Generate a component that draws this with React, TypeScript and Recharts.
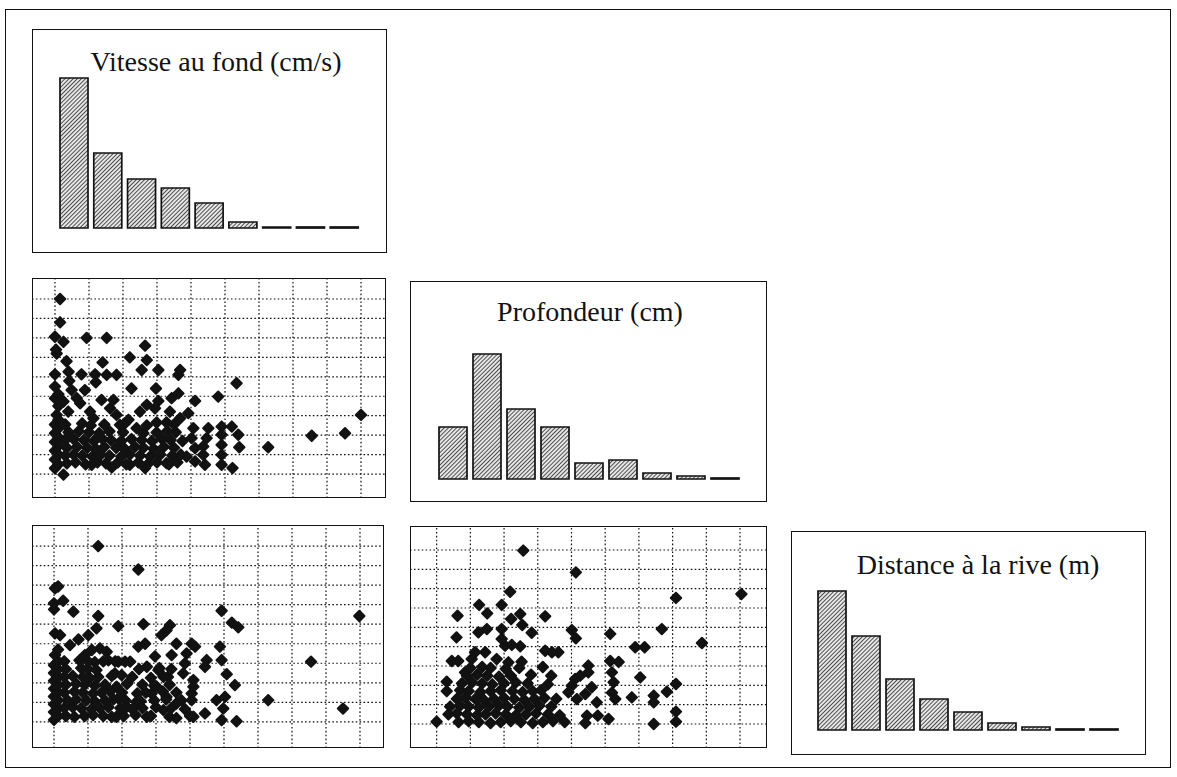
import React from "react";
import { Bar, BarChart, ReferenceLine, Scatter, ScatterChart, XAxis, YAxis } from "recharts";

// classes (9 per variable) and grid lines between classes
const CLASSES = ["1", "2", "3", "4", "5", "6", "7", "8", "9"];
const GRID_TICKS = [0, 1, 2, 3, 4, 5, 6, 7, 8, 9];

// histogram counts per class
const vitesseCounts = [150, 75, 49, 40, 25, 6, 1, 1, 1];
const profondeurCounts = [52, 125, 70, 52, 16, 19, 6, 3, 1];
const distanceCounts = [139, 94, 51, 31, 18, 7, 3, 1, 1];

// scatter points, in class units: [x, y]
const vitesseProfondeur: [number, number][] = [
  [0.15, 9.0], [0.15, 7.8], [0.0, 7.06], [0.25, 6.8], [0.03, 6.4], [0.05, 6.2], [0.34, 5.8], [0.93, 7.0], [1.52, 7.0], [2.65, 6.6],
  [2.2, 6.0], [2.7, 5.86], [1.4, 5.74], [0.4, 5.26], [0.0, 5.13], [0.78, 5.13], [1.18, 5.13], [1.52, 5.1], [1.81, 5.1], [2.55, 5.35],
  [3.04, 5.35], [3.68, 5.35], [3.63, 5.1], [5.34, 4.67], [1.2, 4.72], [0.42, 4.79], [0.0, 4.5], [0.49, 4.32], [0.88, 4.32], [2.25, 4.4],
  [2.97, 4.4], [3.63, 4.15], [3.43, 3.9], [3.04, 3.76], [2.7, 3.56], [1.37, 3.81], [1.72, 3.81], [4.12, 3.76], [4.8, 3.98], [0.0, 3.9],
  [0.25, 3.73], [0.64, 3.9], [0.74, 3.64], [1.62, 3.38], [2.5, 3.21], [2.94, 3.38], [3.38, 3.21], [3.68, 2.87], [3.92, 3.13], [1.03, 3.21],
  [1.13, 2.87], [0.39, 3.21], [0.05, 3.04], [1.81, 3.04], [2.16, 2.79], [1.91, 2.53], [2.4, 2.36], [2.99, 2.65], [2.99, 2.14], [3.28, 2.65],
  [9.0, 3.04], [7.55, 1.97], [8.53, 2.1], [6.27, 1.38], [5.2, 2.44], [5.39, 2.02], [5.42, 1.38], [5.22, 0.31],
  [4.9, 2.44], [4.9, 2.02], [4.9, 1.5], [4.9, 0.99], [4.9, 0.48],
  [4.51, 2.36], [4.46, 1.85], [4.36, 1.42], [4.36, 0.99], [4.41, 0.48],
  [4.07, 2.36], [4.02, 1.85], [4.12, 1.33], [3.87, 0.9], [4.12, 0.65],
  [0.25, -0.03], [1.67, 0.34], [2.65, 0.31], [3.28, 0.56], [2.2, 0.48], [1.08, 0.48],
  [0.0, 0.3], [0.0, 0.75], [0.0, 1.2], [0.0, 1.65], [0.0, 2.1], [0.0, 2.55],
  [0.1, 0.5], [0.1, 1.0], [0.1, 1.45], [0.1, 1.9], [0.1, 2.35], [0.1, 2.8], [0.1, 3.5], [0.1, 4.1],
  [0.35, 0.55], [0.6, 0.6], [0.9, 0.5], [1.25, 0.6], [1.5, 0.55], [1.85, 0.6], [2.1, 0.5], [2.45, 0.6], [2.75, 0.55], [3.0, 0.6], [3.35, 0.5], [3.6, 0.6],
  [0.3, 0.95], [0.55, 1.0], [0.8, 0.95], [1.1, 0.9], [1.35, 1.0], [1.6, 0.95], [1.95, 0.9], [2.2, 1.0], [2.5, 0.95], [2.8, 0.9], [3.1, 1.0], [3.45, 0.95], [3.7, 1.0],
  [0.35, 1.35], [0.65, 1.4], [0.95, 1.35], [1.2, 1.3], [1.45, 1.4], [1.8, 1.35], [2.05, 1.3], [2.35, 1.4], [2.6, 1.35], [2.9, 1.3], [3.2, 1.4], [3.5, 1.35],
  [0.3, 1.75], [0.55, 1.8], [0.85, 1.75], [1.15, 1.7], [1.4, 1.8], [1.65, 1.75], [1.95, 1.7], [2.25, 1.8], [2.55, 1.75], [2.85, 1.7], [3.15, 1.8], [3.4, 1.75], [3.75, 1.7],
  [0.4, 2.15], [0.7, 2.2], [1.0, 2.15], [1.3, 2.1], [1.6, 2.2], [2.0, 2.15], [2.6, 2.1], [3.3, 2.2], [3.55, 2.15],
  [0.3, 2.55], [0.8, 2.6], [1.05, 2.5], [1.45, 2.55], [2.05, 2.6], [2.7, 2.5], [3.5, 2.55],
];

const vitesseDistance: [number, number][] = [
  [1.3, 9.0], [2.48, 7.8], [0.03, 6.84], [0.12, 6.93], [0.0, 6.07], [0.0, 5.76], [0.27, 6.2], [0.57, 5.64], [1.3, 5.42], [1.89, 4.9],
  [2.63, 5.0], [3.41, 4.95], [3.31, 4.69], [3.16, 4.44], [4.93, 5.69], [5.23, 5.08], [5.42, 4.84], [8.98, 5.42], [7.56, 3.08], [6.3, 1.11],
  [8.5, 0.68], [5.37, 0.03],
  [4.88, 3.85], [4.93, 3.16], [5.08, 2.44], [5.32, 1.88], [5.03, 1.28], [4.98, 0.68], [4.93, 0.09], [4.78, 1.11],
  [4.05, 4.0], [4.15, 3.85], [3.9, 3.5], [4.49, 3.16], [4.44, 2.82], [4.1, 2.14], [4.1, 1.8], [4.05, 1.11], [4.1, 0.26], [4.44, 0.43],
  [3.6, 4.0], [3.46, 3.42], [3.85, 2.99], [3.8, 2.48],
  [2.68, 4.0], [2.48, 3.85], [2.97, 3.35], [2.73, 2.82], [3.07, 2.65], [3.22, 2.31], [3.02, 1.8], [2.87, 1.45], [3.31, 1.28], [3.6, 0.94],
  [3.6, 0.19], [3.22, 0.6], [2.73, 0.26], [2.43, 1.03],
  [2.24, 3.08], [2.09, 3.08], [1.89, 3.08], [1.79, 2.48], [1.99, 2.39], [1.84, 1.8], [1.89, 1.2], [2.14, 0.77], [1.84, 0.26],
  [0.03, 4.53], [0.18, 4.44], [0.72, 4.22], [0.47, 3.93], [1.01, 4.44], [1.25, 4.79], [1.11, 3.68], [0.91, 3.42], [1.35, 3.76], [1.55, 3.59], [0.03, 3.42],
  [0.0, 0.1], [0.0, 0.5], [0.0, 0.9], [0.0, 1.3], [0.0, 1.7], [0.0, 2.1], [0.0, 2.5], [0.0, 2.9],
  [0.12, 0.3], [0.12, 0.7], [0.12, 1.1], [0.12, 1.5], [0.12, 1.9], [0.12, 2.3], [0.12, 2.7], [0.12, 3.1], [0.12, 3.7],
  [0.35, 0.3], [0.6, 0.25], [0.9, 0.3], [1.15, 0.35], [1.45, 0.3], [1.7, 0.25], [2.05, 0.3], [2.4, 0.35], [2.85, 0.3], [3.4, 0.25], [4.0, 0.3],
  [0.3, 0.7], [0.55, 0.75], [0.8, 0.7], [1.1, 0.65], [1.35, 0.7], [1.6, 0.75], [1.95, 0.7], [2.3, 0.65], [2.6, 0.7], [3.0, 0.75], [3.45, 0.7], [3.85, 0.65],
  [0.4, 1.1], [0.65, 1.15], [0.95, 1.1], [1.2, 1.05], [1.5, 1.1], [1.75, 1.15], [2.1, 1.1], [2.55, 1.05], [2.95, 1.1], [3.3, 1.15], [3.75, 1.1],
  [0.3, 1.5], [0.6, 1.55], [0.85, 1.5], [1.15, 1.45], [1.4, 1.5], [1.65, 1.55], [2.0, 1.5], [2.45, 1.45], [2.7, 1.5], [3.2, 1.55], [3.6, 1.5], [4.05, 1.45],
  [0.35, 1.9], [0.65, 1.95], [0.9, 1.9], [1.2, 1.85], [1.5, 1.9], [2.15, 1.95], [2.6, 1.9], [2.95, 1.85], [3.4, 1.9],
  [0.3, 2.3], [0.55, 2.35], [0.85, 2.3], [1.05, 2.25], [1.3, 2.3], [1.7, 2.35], [2.3, 2.3], [2.85, 2.25], [3.35, 2.3],
  [0.35, 2.7], [0.8, 2.75], [1.0, 2.7], [1.25, 2.65], [2.5, 2.7], [3.1, 2.75], [3.45, 2.7],
  [0.3, 3.1], [0.75, 3.15], [1.0, 3.1], [1.2, 3.05], [1.45, 3.1], [1.6, 3.15], [1.8, 3.1],
];

const profondeurDistance: [number, number][] = [
  [2.57, 8.97], [4.13, 7.84], [2.18, 6.84], [7.1, 6.52], [9.04, 6.72], [1.26, 6.16], [1.93, 6.16], [1.5, 5.72], [0.62, 5.6], [2.21, 5.43],
  [2.48, 5.69], [3.22, 5.57], [2.54, 5.12],
  [6.68, 4.91], [7.87, 4.19], [5.89, 3.97], [6.17, 3.97], [5.15, 4.66], [4.01, 4.86], [4.13, 4.43],
  [0.59, 4.48], [1.24, 4.74], [1.49, 4.91], [1.93, 4.91], [2.82, 4.72], [1.93, 4.4], [2.03, 4.05], [2.23, 4.09], [2.48, 4.02],
  [1.14, 3.71], [1.44, 3.71], [1.04, 3.36], [1.78, 3.36], [2.13, 3.19], [2.52, 3.22], [3.42, 3.71], [3.61, 3.71], [3.22, 3.79],
  [0.45, 3.26], [0.64, 3.26], [0.3, 2.19], [0.84, 2.67],
  [0.0, 0.12], [6.44, 0.0], [7.1, 2.07], [6.83, 1.67], [7.1, 0.64], [7.1, 0.12], [6.04, 2.41], [5.79, 1.38], [6.44, 1.47], [6.44, 1.12],
  [5.15, 3.26], [5.4, 3.21], [5.2, 2.67], [5.25, 2.16], [5.2, 1.62], [5.3, 1.29], [5.1, 0.26], [4.75, 1.12], [4.78, 0.43], [4.46, 0.43], [4.41, 0.05],
  [4.5, 3.02], [4.5, 2.67], [4.26, 2.5], [4.11, 2.33], [4.01, 1.98], [3.91, 1.64], [4.16, 1.29], [4.41, 1.55], [4.6, 1.9],
  [0.65, 0.1], [0.95, 0.15], [1.25, 0.1], [1.6, 0.05], [1.9, 0.1], [2.2, 0.15], [2.5, 0.1], [2.85, 0.05], [3.15, 0.1], [3.45, 0.15], [3.8, 0.1],
  [0.35, 0.5], [0.6, 0.55], [0.9, 0.5], [1.2, 0.45], [1.45, 0.5], [1.75, 0.55], [2.05, 0.5], [2.35, 0.45], [2.65, 0.5], [2.95, 0.55], [3.3, 0.5], [3.65, 0.45],
  [0.4, 0.9], [0.7, 0.95], [0.95, 0.9], [1.25, 0.85], [1.55, 0.9], [1.85, 0.95], [2.1, 0.9], [2.45, 0.85], [2.75, 0.9], [3.05, 0.95], [3.4, 0.9],
  [0.6, 1.3], [0.85, 1.35], [1.15, 1.3], [1.4, 1.25], [1.7, 1.3], [2.0, 1.35], [2.3, 1.3], [2.6, 1.25], [2.9, 1.3], [3.2, 1.35], [3.55, 1.3],
  [0.3, 1.7], [0.7, 1.75], [0.95, 1.7], [1.3, 1.65], [1.6, 1.7], [1.9, 1.75], [2.25, 1.7], [2.55, 1.65], [2.85, 1.7], [3.1, 1.75],
  [0.75, 2.1], [1.05, 2.15], [1.35, 2.1], [1.65, 2.05], [2.0, 2.1], [2.35, 2.15], [2.7, 2.1], [3.3, 2.05],
  [0.9, 2.5], [1.2, 2.55], [1.5, 2.5], [1.85, 2.45], [2.2, 2.5], [2.8, 2.55], [3.4, 2.5],
  [1.0, 2.9], [1.35, 2.95], [1.6, 2.9], [2.05, 2.85], [2.45, 2.9], [3.15, 2.95],
];

const toPoints = (rows: [number, number][]) => rows.map(([x, y]) => ({ x, y }));

const INK = "#121212";
const SERIF = "'Liberation Serif', 'Times New Roman', serif";

function Frame({ left, top, width, height, children }: any) {
  return (
    <div style={{ position: "absolute", left, top, width, height }}>
      {children}
      <div
        style={{
          position: "absolute",
          inset: 0,
          border: `1.7px solid ${INK}`,
          boxSizing: "border-box",
          pointerEvents: "none",
        }}
      />
    </div>
  );
}

function Histogram({ id, title, counts, left, top, width, height, margin, titleX, titleTop }: any) {
  const data = counts.map((n: number, i: number) => ({ classe: CLASSES[i], n }));
  return (
    <Frame left={left} top={top} width={width} height={height}>
      <div
        style={{
          position: "absolute",
          left: titleX,
          top: titleTop,
          transform: "translateX(-50%)",
          fontFamily: SERIF,
          fontSize: 28,
          lineHeight: "28px",
          whiteSpace: "nowrap",
          color: INK,
        }}
      >
        {title}
      </div>
      <BarChart width={width} height={height} data={data} margin={margin} style={{ position: "absolute", left: 0, top: 0 }}>
        <defs>
          <pattern id={id} patternUnits="userSpaceOnUse" width={2.9} height={2.9} patternTransform="rotate(45)">
            <rect width={2.9} height={2.9} fill="#e6e6e6" />
            <line x1={0} y1={0} x2={0} y2={2.9} stroke="#1e1e1e" strokeWidth={1.5} />
          </pattern>
        </defs>
        <XAxis dataKey="classe" hide />
        <YAxis hide domain={[0, Math.max(...counts)]} />
        <Bar dataKey="n" barSize={28} fill={`url(#${id})`} stroke={INK} strokeWidth={1.7} isAnimationActive={false} />
      </BarChart>
    </Frame>
  );
}

const Diamond = (props: any) => {
  const { cx, cy } = props;
  if (cx == null || cy == null) return null;
  const r = 5.2;
  return (
    <path
      d={`M${cx},${cy - r}L${cx + r},${cy}L${cx},${cy + r}L${cx - r},${cy}Z`}
      fill={INK}
      stroke={INK}
      strokeWidth={2}
      strokeLinejoin="round"
    />
  );
};

function Pairs({ rows, left, top, width, height, xDomain, yDomain }: any) {
  return (
    <Frame left={left} top={top} width={width} height={height}>
      <ScatterChart width={width} height={height} margin={{ top: 0, right: 0, bottom: 0, left: 0 }}>
        <XAxis type="number" dataKey="x" domain={xDomain} hide allowDataOverflow />
        <YAxis type="number" dataKey="y" domain={yDomain} hide allowDataOverflow />
        {GRID_TICKS.map((t) => (
          <ReferenceLine key={`v${t}`} x={t} stroke={INK} strokeWidth={1.2} strokeDasharray="1.6 2.3" />
        ))}
        {GRID_TICKS.map((t) => (
          <ReferenceLine key={`h${t}`} y={t} stroke={INK} strokeWidth={1.2} strokeDasharray="1.6 2.3" />
        ))}
        <Scatter data={toPoints(rows)} shape={Diamond} isAnimationActive={false} />
      </ScatterChart>
    </Frame>
  );
}

export default function App() {
  return (
    <div style={{ position: "absolute", left: 0, top: 0, width: 1177, height: 777, background: "#fff", overflow: "hidden" }}>
      <div
        style={{
          position: "absolute",
          left: 5,
          top: 9,
          width: 1166,
          height: 759,
          border: `1.5px solid ${INK}`,
          boxSizing: "border-box",
        }}
      />
      <Histogram
        id="hatchVitesse"
        title="Vitesse au fond (cm/s)"
        counts={vitesseCounts}
        left={32}
        top={29}
        width={355}
        height={224}
        margin={{ top: 49, right: 26, bottom: 25, left: 25 }}
        titleX={184}
        titleTop={19}
      />
      <Pairs rows={vitesseProfondeur} left={32} top={278} width={354} height={220} xDomain={[-0.676, 9.735]} yDomain={[-1.23, 10.08]} />
      <Histogram
        id="hatchProfondeur"
        title="Profondeur (cm)"
        counts={profondeurCounts}
        left={410}
        top={281}
        width={357}
        height={221}
        margin={{ top: 73, right: 25, bottom: 23, left: 26 }}
        titleX={180}
        titleTop={17}
      />
      <Pairs rows={vitesseDistance} left={32} top={525} width={352} height={223} xDomain={[-0.647, 9.706]} yDomain={[-1.34, 10.08]} />
      <Pairs rows={profondeurDistance} left={410} top={526} width={357} height={222} xDomain={[-0.79, 9.8]} yDomain={[-1.24, 10.24]} />
      <Histogram
        id="hatchDistance"
        title="Distance à la rive (m)"
        counts={distanceCounts}
        left={791}
        top={531}
        width={355}
        height={224}
        margin={{ top: 60, right: 25, bottom: 25, left: 24 }}
        titleX={187}
        titleTop={20}
      />
    </div>
  );
}
